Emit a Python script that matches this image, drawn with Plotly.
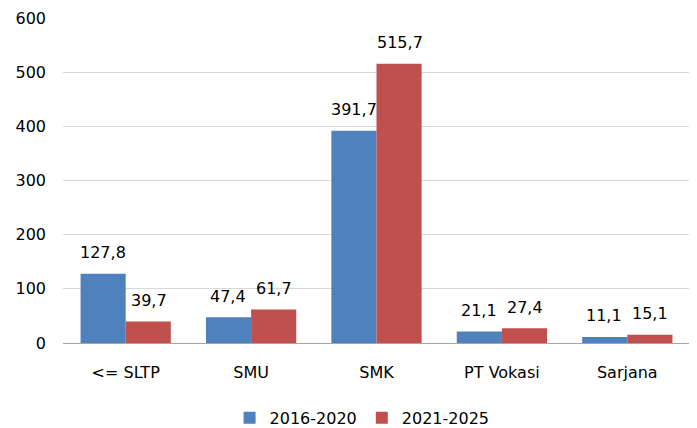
import plotly.graph_objects as go

categories = ["<= SLTP", "SMU", "SMK", "PT Vokasi", "Sarjana"]
series_names = ["2016-2020", "2021-2025"]
values_2016 = [127.8, 47.4, 391.7, 21.1, 11.1]
values_2021 = [39.7, 61.7, 515.7, 27.4, 15.1]
y_ticks = [0, 100, 200, 300, 400, 500, 600]

colors = ["#4F81BD", "#C0504D"]
font = "DejaVu Sans"

fig = go.Figure()
for name, vals, col in zip(series_names, [values_2016, values_2021], colors):
    fig.add_trace(go.Bar(x=categories, y=vals, name=name, marker_color=col,
                         marker_line_width=0))

annotations = []
for idx, vals in enumerate([values_2016, values_2021]):
    shift = -23 if idx == 0 else 23
    for c, v in zip(categories, vals):
        annotations.append(dict(x=c, y=v, text=f"{v:.1f}".replace(".", ","),
                                showarrow=False, xshift=shift, yshift=21,
                                font=dict(family=font, size=16, color="#000000")))

# page body has an 8px margin, so the figure is sized to fit the window
fig.update_layout(
    width=689, height=420,
    margin=dict(l=55, r=7, t=10, b=85, autoexpand=False),
    paper_bgcolor="white", plot_bgcolor="white",
    barmode="group", bargap=0.28, bargroupgap=0,
    font=dict(family=font, size=16, color="#000000"),
    annotations=annotations,
    showlegend=True,
    legend=dict(orientation="h", x=0.477, xanchor="center", y=-0.23, yanchor="middle",
                font=dict(family=font, size=16), traceorder="normal"),
    xaxis=dict(showgrid=False, ticks="", showline=False, ticklabelstandoff=18,
               automargin=False, tickfont=dict(family=font, size=16)),
    yaxis=dict(range=[0, 600], tickvals=y_ticks, showgrid=True, gridcolor="#D9D9D9",
               gridwidth=1, zeroline=True, zerolinecolor="#A6A6A6", zerolinewidth=1,
               showline=False, ticks="", ticklabelstandoff=16, automargin=False,
               tickfont=dict(family=font, size=16)),
)

fig.write_html("out.html")
